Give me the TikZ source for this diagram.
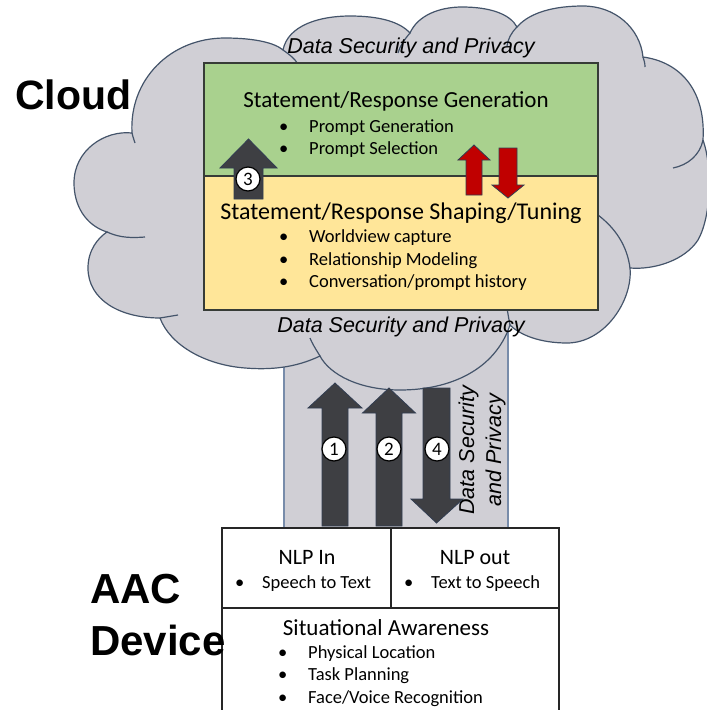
\documentclass[tikz,border=0pt]{standalone}
\usepackage{fontspec}
\setmainfont{Carlito}
\newfontfamily\arialfont{Liberation Sans}

\definecolor{cloudgray}{RGB}{208,207,213}
\definecolor{cloudline}{RGB}{68,84,106}
\definecolor{trunkline}{RGB}{120,140,170}
\definecolor{boxgreen}{RGB}{169,209,142}
\definecolor{boxyellow}{RGB}{255,230,153}
\definecolor{boxline}{RGB}{55,60,55}
\definecolor{arrowdark}{RGB}{62,63,67}
\definecolor{arrowred}{RGB}{192,0,0}
\definecolor{arrowline}{RGB}{50,62,82}

\newcommand{\bul}[2][30pt]{\makebox[#1][l]{\textbullet}#2}

\begin{document}
\begin{tikzpicture}[
    x=1pt, y=-1pt,
    every node/.style={inner sep=0pt},
    cloudedge/.style={draw=cloudline, line width=1.2pt},
    boxtitle/.style={anchor=base, font=\fontsize{23}{27}\selectfont},
    bulitem/.style={anchor=base west, font=\fontsize{18.5}{22}\selectfont},
    dsp/.style={font=\arialfont\itshape\fontsize{21.5}{27}\selectfont},
    biglbl/.style={anchor=base west, font=\arialfont\bfseries\fontsize{41}{50}\selectfont},
    numc/.style={circle, draw=black, fill=white, line width=1.2pt,
        minimum size=24pt, font=\fontsize{19}{19}\selectfont},
    blockdark/.style={fill=arrowdark, draw=arrowline, line width=0.8pt},
    blockred/.style={fill=arrowred, draw=arrowline, line width=0.8pt},
    devbox/.style={draw=black!85, line width=1.5pt}
]
\useasboundingbox (0,0) rectangle (707,710);

% --- trunk between cloud and device ---
\filldraw[fill=cloudgray, draw=trunkline, line width=1.2pt] (284,300) rectangle (508,528);

% --- cloud ---
\filldraw[fill=cloudgray, cloudedge]
    (132,133) .. controls (129,80) and (170,38) .. (225,38)
    .. controls (255,38) and (275,43) .. (283,50)
    .. controls (288,25) and (320,16) .. (350,16)
    .. controls (380,16) and (400,22) .. (410,33)
    .. controls (418,15) and (440,7) .. (462,7)
    .. controls (490,7) and (510,14) .. (517,27)
    .. controls (530,12) and (555,6) .. (583,6)
    .. controls (615,6) and (640,28) .. (643,57)
    .. controls (680,62) and (706,90) .. (703,140)
    .. controls (712,165) and (712,215) .. (698,240)
    .. controls (685,260) and (655,270) .. (630,268)
    .. controls (633,300) and (605,343) .. (567,343)
    .. controls (540,343) and (520,335) .. (510,325)
    .. controls (495,370) and (450,390) .. (400,390)
    .. controls (360,390) and (330,375) .. (320,356)
    .. controls (295,368) and (270,370) .. (245,368)
    .. controls (205,365) and (170,345) .. (160,318)
    .. controls (120,318) and (88,300) .. (88,268)
    .. controls (88,250) and (98,238) .. (107,232)
    .. controls (85,225) and (74,205) .. (74,183)
    .. controls (74,150) and (105,130) .. (132,133) -- cycle;

% --- creases of the cloud ---
\draw[cloudedge] (283,50) .. controls (290,55) and (294,58) .. (298,64);
\draw[cloudedge] (410,33) .. controls (404,40) and (400,46) .. (398,53);
\draw[cloudedge] (517,27) .. controls (511,33) and (508,39) .. (507,46);
\draw[cloudedge] (643,57) .. controls (644,60) and (645,63) .. (645,67);
\draw[cloudedge] (703,140) .. controls (700,155) and (688,165) .. (673,168);
\draw[cloudedge] (598,215) .. controls (615,228) and (627,245) .. (630,268);
\draw[cloudedge] (510,325) .. controls (508,315) and (507,307) .. (505,298);
\draw[cloudedge] (320,356) .. controls (315,348) and (312,343) .. (310,338);
\draw[cloudedge] (160,318) .. controls (166,317) and (172,316) .. (178,315);
\draw[cloudedge] (107,232) .. controls (120,238) and (132,238) .. (145,237);
\draw[cloudedge] (132,133) .. controls (133,137) and (134,140) .. (135,143);

% --- cloud boxes ---
\draw[fill=boxgreen, draw=boxline, line width=1.5pt] (204,63) rectangle (598,176);
\draw[fill=boxyellow, draw=boxline, line width=1.5pt] (204,176) rectangle (598,310);

\node[boxtitle] (gentitle) at (396,107) {Statement/Response Generation};
\foreach \txt [count=\i] in {Prompt Generation, Prompt Selection}
    \node[bulitem] (gen\i) at (279,{110+22*\i}) {\bul{\txt}};

\node[boxtitle, font=\fontsize{24}{28}\selectfont] (shapetitle) at (401,219)
    {Statement/Response Shaping/Tuning};
\foreach \txt [count=\i] in {Worldview capture, Relationship Modeling, Conversation/prompt history}
    \node[bulitem] (shape\i) at (279,{220.6+22.3*\i}) {\bul{\txt}};

% --- labels on the cloud ---
\node[dsp, anchor=base] (dsptop) at (411,53) {Data Security and Privacy};
\node[dsp, anchor=base] (dspbot) at (401,332) {Data Security and Privacy};
\node[dsp, rotate=90, align=center] (dspside) at (482,450) {Data Security\\and Privacy};
\node[biglbl] (cloudlbl) at (15,109) {Cloud};

% --- block arrows ---
\foreach \x/\t/\b/\s/\h/\l in {335/383/526/13/27/25, 389/388/526/13/26.5/25, 248.5/139/199/14.5/28.5/29}
    \filldraw[blockdark] ({\x-\s},\b) -- ({\x-\s},{\t+\l}) -- ({\x-\h},{\t+\l}) -- (\x,\t)
        -- ({\x+\h},{\t+\l}) -- ({\x+\s},{\t+\l}) -- ({\x+\s},\b) -- cycle;
\filldraw[blockdark] (423,388) -- (423,499) -- (411,499) -- (436.5,523) -- (463,499)
    -- (450,499) -- (450,388) -- cycle;
\filldraw[blockred] (466,195) -- (466,160) -- (458,160) -- (474,145) -- (490,160)
    -- (482,160) -- (482,195) -- cycle;
\filldraw[blockred] (499,148) -- (499,185) -- (492,185) -- (508,198) -- (524,185)
    -- (517,185) -- (517,148) -- cycle;

\node[numc] (num1) at (334,449) {1};
\node[numc] (num2) at (389,449) {2};
\node[numc] (num4) at (437,449) {4};
\node[numc] (num3) at (248,179) {3};

% --- AAC device ---
\draw[devbox, fill=white] (222,528) rectangle (559,608);
\draw[devbox] (391,528) -- (391,608);
\draw[devbox] (222,716) -- (222,608) -- (559,608) -- (559,716);

\node[boxtitle, font=\fontsize{22}{26}\selectfont] (nlpin) at (307,564) {NLP In};
\node[bulitem] (nlpin1) at (235,588) {\bul[27pt]{Speech to Text}};
\node[boxtitle, font=\fontsize{22}{26}\selectfont] (nlpout) at (475,564) {NLP out};
\node[bulitem] (nlpout1) at (404,588) {\bul[27pt]{Text to Speech}};

\node[boxtitle] (situ) at (386,635) {Situational Awareness};
\foreach \txt [count=\i] in {Physical Location, Task Planning, Face/Voice Recognition}
    \node[bulitem] (situ\i) at (278,{635.5+22.5*\i}) {\bul{\txt}};

\node[biglbl, font=\arialfont\bfseries\fontsize{42}{50}\selectfont] (aac) at (90,603) {AAC};
\node[biglbl, font=\arialfont\bfseries\fontsize{42}{50}\selectfont] (device) at (90,655) {Device};

\end{tikzpicture}
\end{document}
